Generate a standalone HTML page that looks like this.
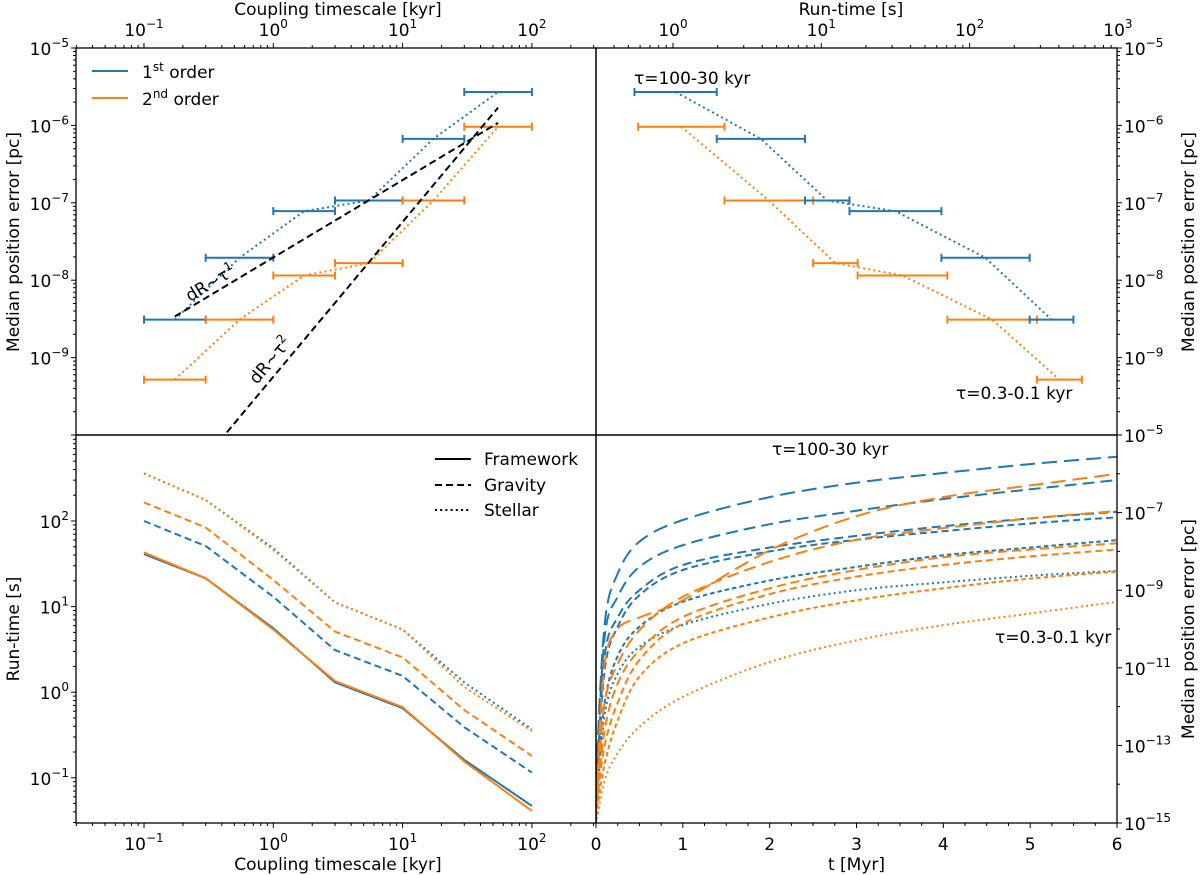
<!DOCTYPE html>
<html><head><meta charset="utf-8"><style>
body{margin:0;background:#fff}
svg{display:block;font-family:"DejaVu Sans","Liberation Sans",sans-serif}
</style></head><body>
<svg id="fig" width="1200" height="875" xmlns="http://www.w3.org/2000/svg"></svg>
<script>
// ===== DATA =====
const tauLo = [0.1, 0.3, 1, 3, 10, 30];
const tauHi = [0.3, 1, 3, 10, 30, 100];
const err1 = [3.1e-9, 1.95e-8, 7.8e-8, 1.07e-7, 6.7e-7, 2.7e-6];
const err2 = [5.2e-10, 3.1e-9, 1.15e-8, 1.66e-8, 1.07e-7, 9.6e-7];
const rt1Lo = [-0.26, 0.295, 0.89, 1.19, 1.81, 2.405];
const rt1Hi = [0.295, 0.89, 1.19, 1.81, 2.405, 2.70];
const rtErr1 = [2.7e-6, 6.7e-7, 1.07e-7, 7.8e-8, 1.95e-8, 3.1e-9];
const rt2Lo = [-0.235, 0.347, 0.945, 1.245, 1.85, 2.454];
const rt2Hi = [0.347, 0.945, 1.245, 1.85, 2.454, 2.757];
const rtErr2 = [9.6e-7, 1.07e-7, 1.66e-8, 1.15e-8, 3.1e-9, 5.2e-10];
const tauPts = [0.1, 0.3, 1, 3, 10, 30, 100];
const fw1 = [41, 21.4, 5.6, 1.3, 0.65, 0.162, 0.047];
const fw2 = [43, 21.4, 5.4, 1.35, 0.67, 0.155, 0.041];
const gr1 = [100, 51, 13, 3.1, 1.55, 0.39, 0.115];
const gr2 = [165, 84, 20.5, 5.1, 2.55, 0.62, 0.18];
const st1 = [360, 176, 48, 11.2, 5.4, 1.3, 0.37];
const st2 = [360, 176, 46, 11.2, 5.4, 1.15, 0.35];
const tMyr = [0.01, 0.1, 0.25, 0.5, 1, 2, 3, 4, 5, 6];
const B1 = [-13.5, -9.86, -8.57, -7.75, -7.19, -6.6, -6.23, -5.98, -5.75, -5.56];
const B2 = [-13.8, -10.2, -9.17, -8.4, -7.84, -7.3, -6.95, -6.65, -6.4, -6.16];
const B3 = [-14, -10.7, -9.7, -9.0, -8.35, -7.9, -7.6, -7.35, -7.15, -6.98];
const B4 = [-14.2, -11.06, -9.94, -9.13, -8.48, -8.0, -7.7, -7.48, -7.28, -7.12];
const B5 = [-14.3, -11.9, -10.7, -9.94, -9.3, -8.75, -8.4, -8.1, -7.9, -7.71];
const B6 = [-14.5, -12.2, -11.15, -10.46, -9.9, -9.35, -9.0, -8.8, -8.63, -8.5];
const O1 = [-14, -10.9, -10.0, -9.7, -9.26, -7.97, -7.09, -6.6, -6.3, -6.0];
const O2 = [-14.2, -11.9, -10.9, -10.03, -9.17, -8.27, -7.7, -7.4, -7.15, -6.96];
const O3 = [-14.4, -12.6, -11.4, -10.55, -9.69, -8.95, -8.48, -8.15, -7.95, -7.79];
const O4 = [-14.5, -13, -11.9, -10.8, -9.86, -9.1, -8.65, -8.35, -8.13, -7.95];
const O5 = [-14.7, -13.47, -12.35, -11.23, -10.37, -9.7, -9.26, -8.95, -8.7, -8.52];
const O6 = [-14.9, -13.9, -13.2, -12.52, -11.75, -10.85, -10.29, -9.9, -9.6, -9.3];

// ===== DRAW =====
const NS = "http://www.w3.org/2000/svg";
const svg = document.getElementById('fig');
const BLUE = "#1f77b4", ORANGE = "#ff7f0e";
const TF = 17, SF = 12, LF = 17;
function mk(tag, attrs, parent) {
  const e = document.createElementNS(NS, tag);
  for (const k in attrs) e.setAttribute(k, attrs[k]);
  (parent || svg).appendChild(e);
  return e;
}
const XL = 76, XM = 596, XR = 1117, YT = 48, YM = 435, YB = 823;
const lg = Math.log10;
const cx = v => 144 + (lg(v) + 1) * 129.3;
const ty = v => YT + (-5 - lg(v)) * 77.4;
const rx = l => 673 + l * 148.3;
const by = v => 521 + (2 - lg(v)) * 85.6;
const tx = t => XM + t * (XR - XM) / 6;
const ey = l => YM + (-5 - l) * (YB - YM) / 10;

const g = mk('g', {});



function pathD(xs, ys) { return xs.map((x, i) => (i ? 'L' : 'M') + x.toFixed(1) + ',' + ys[i].toFixed(1)).join(' '); }
function smoothD(xs, ys) {
  let d = 'M' + xs[0].toFixed(1) + ',' + ys[0].toFixed(1);
  for (let i = 0; i < xs.length - 1; i++) {
    const x0 = xs[Math.max(i - 1, 0)], y0 = ys[Math.max(i - 1, 0)];
    const x3 = xs[Math.min(i + 2, xs.length - 1)], y3 = ys[Math.min(i + 2, xs.length - 1)];
    const c1x = xs[i] + (xs[i + 1] - x0) / 6, c1y = ys[i] + (ys[i + 1] - y0) / 6;
    const c2x = xs[i + 1] - (x3 - xs[i]) / 6, c2y = ys[i + 1] - (y3 - ys[i]) / 6;
    d += ` C${c1x.toFixed(1)},${c1y.toFixed(1)} ${c2x.toFixed(1)},${c2y.toFixed(1)} ${xs[i + 1].toFixed(1)},${ys[i + 1].toFixed(1)}`;
  }
  return d;
}
function line(xs, ys, color, dash, name, w, clip, smooth) {
  const p = mk('path', {d: smooth ? smoothD(xs, ys) : pathD(xs, ys), fill: 'none', stroke: color, 'stroke-width': w || 2, 'stroke-dasharray': dash || 'none'}, g);
  if (clip) p.setAttribute('clip-path', 'url(#' + clip + ')');
  
  
  return p;
}
const defs = mk('defs', {});
[['cTL', XL, YT, XM - XL, YM - YT], ['cTR', XM, YT, XR - XM, YM - YT], ['cBL', XL, YM, XM - XL, YB - YM], ['cBR', XM, YM, XR - XM, YB - YM]].forEach(c => {
  const cp = mk('clipPath', {id: c[0]}, defs);
  mk('rect', {x: c[1], y: c[2], width: c[3], height: c[4]}, cp);
});
function text(x, y, s, opts, name) {
  const t = mk('text', Object.assign({x: x, y: y, 'font-size': TF, fill: '#000'}, opts || {}));
  t.innerHTML = s;
  
  
  return t;
}
function pow(e) { return '10<tspan dy="-8" font-size="' + SF + '">' + e + '</tspan>'; }
function tick(x1, y1, x2, y2) { mk('line', {x1: x1, y1: y1, x2: x2, y2: y2, stroke: '#000', 'stroke-width': 1}); }
function ebar(x1, x2, y, color, name) {
  const e = mk('path', {d: `M${x1},${y} L${x2},${y} M${x1},${y - 4} L${x1},${y + 4} M${x2},${y - 4} L${x2},${y + 4}`, stroke: color, 'stroke-width': 2, fill: 'none'}, g);
  
  
}
const DOT = '2 3.2';

// ---- top-left ----
for (let i = 0; i < 6; i++) {
  ebar(cx(tauLo[i]), cx(tauHi[i]), ty(err1[i]), BLUE, 'errorbar-first-order');
  ebar(cx(tauLo[i]), cx(tauHi[i]), ty(err2[i]), ORANGE, 'errorbar-second-order');
}
const mid = tauLo.map((v, i) => Math.sqrt(v * tauHi[i]));
line(mid.map(cx), err1.map(ty), BLUE, DOT, 'first-order-trend', 2, 'cTL');
line(mid.map(cx), err2.map(ty), ORANGE, DOT, 'second-order-trend', 2, 'cTL');
const r1x = [0.173, 54.8], r1y = [3.4e-9, 3.4e-9 * 54.8 / 0.173];
line(r1x.map(cx), r1y.map(ty), '#000', '7 4', 'slope-1-reference', 2, 'cTL');
const r2x = [0.3, 54.8], r2y = [1.7e-6 * Math.pow(0.3 / 54.8, 2), 1.7e-6];
line(r2x.map(cx), r2y.map(ty), '#000', '7 4', 'slope-2-reference', 2, 'cTL');
text(0, 0, 'dR~τ<tspan dy="-7" font-size="' + SF + '">1</tspan>', {transform: 'translate(190,302) rotate(-31)'}, 'slope-1-label');
text(0, 0, 'dR~τ<tspan dy="-7" font-size="' + SF + '">2</tspan>', {transform: 'translate(257,385) rotate(-50)'}, 'slope-2-label');

// ---- top-right ----
for (let i = 0; i < 6; i++) {
  ebar(rx(rt1Lo[i]), rx(rt1Hi[i]), ty(rtErr1[i]), BLUE, 'runtime-errorbar-first');
  ebar(rx(rt2Lo[i]), rx(rt2Hi[i]), ty(rtErr2[i]), ORANGE, 'runtime-errorbar-second');
}
line(rt1Lo.map((v, i) => rx((v + rt1Hi[i]) / 2)), rtErr1.map(ty), BLUE, DOT, 'runtime-trend-first', 2, 'cTR');
line(rt2Lo.map((v, i) => rx((v + rt2Hi[i]) / 2)), rtErr2.map(ty), ORANGE, DOT, 'runtime-trend-second', 2, 'cTR');
text(634, 84, 'τ=100-30 kyr', {}, 'annotation-tau-high');
text(956, 399, 'τ=0.3-0.1 kyr', {}, 'annotation-tau-low');

// ---- bottom-left ----
const bx = tauPts.map(cx);
line(bx, fw1.map(by), BLUE, 'none', 'framework-first', 2, 'cBL');
line(bx, fw2.map(by), ORANGE, 'none', 'framework-second', 2, 'cBL');
line(bx, gr1.map(by), BLUE, '7 4', 'gravity-first', 2, 'cBL');
line(bx, gr2.map(by), ORANGE, '7 4', 'gravity-second', 2, 'cBL');
line(bx, st1.map(by), BLUE, DOT, 'stellar-first', 2, 'cBL');
line(bx, st2.map(by), ORANGE, DOT, 'stellar-second', 2, 'cBL');

// ---- bottom-right ----
const dashes = ['15 7', '12 6', '9 5', '7 4', '4.5 3', '2 3.2'];
const bS = [B1, B2, B3, B4, B5, B6], oS = [O1, O2, O3, O4, O5, O6];
const txs = tMyr.map(tx);
bS.forEach((s, i) => line([tx(0), ...txs], [ey(-15), ...s.map(ey)], BLUE, dashes[i], 'error-growth-first-' + (i + 1), 2, 'cBR', true));
oS.forEach((s, i) => line([tx(0), ...txs], [ey(-15), ...s.map(ey)], ORANGE, dashes[i], 'error-growth-second-' + (i + 1), 2, 'cBR', true));
text(772, 455, 'τ=100-30 kyr', {}, 'annotation-tau-high-bottom');
text(995, 643, 'τ=0.3-0.1 kyr', {}, 'annotation-tau-low-bottom');

// ---- frames ----
[[XL, YT, XM - XL, YM - YT], [XM, YT, XR - XM, YM - YT], [XL, YM, XM - XL, YB - YM], [XM, YM, XR - XM, YB - YM]].forEach(r =>
  mk('rect', {x: r[0], y: r[1], width: r[2], height: r[3], fill: 'none', stroke: '#000', 'stroke-width': 1.3}));

// ---- ticks ----
for (let d = -2; d <= 2; d++) for (let m = 1; m <= 9; m++) {
  const v = m * Math.pow(10, d), x = cx(v);
  if (x < XL || x > XM) continue;
  const L = m === 1 ? 5 : 3;
  tick(x, YT, x, YT - L); tick(x, YB, x, YB + L);
}
[-1, 0, 1, 2].forEach(e => {
  text(cx(Math.pow(10, e)), 36, pow(e < 0 ? '−' + (-e) : e), {'text-anchor': 'middle'}, 'top-x-tick-label');
  text(cx(Math.pow(10, e)), 850, pow(e < 0 ? '−' + (-e) : e), {'text-anchor': 'middle'}, 'bottom-x-tick-label');
});
text(cx(Math.pow(10, 0.5)), 15, 'Coupling timescale [kyr]', {'text-anchor': 'middle', 'font-size': LF}, 'top-left-x-title');
text(cx(Math.pow(10, 0.5)), 870, 'Coupling timescale [kyr]', {'text-anchor': 'middle', 'font-size': LF}, 'bottom-left-x-title');
for (let d = -1; d <= 3; d++) for (let m = 1; m <= 9; m++) {
  const l = d + lg(m), x = rx(l);
  if (x < XM || x > XR + 0.5) continue;
  tick(x, YT, x, YT - (m === 1 ? 5 : 3));
}
[0, 1, 2, 3].forEach(e => text(rx(e), 36, pow(e), {'text-anchor': 'middle'}, 'top-right-x-tick-label'));
text(rx(1.2), 15, 'Run-time [s]', {'text-anchor': 'middle', 'font-size': LF}, 'top-right-x-title');
for (let d = -10; d <= -6; d++) for (let m = 1; m <= 9; m++) {
  const y = ty(m * Math.pow(10, d));
  const L = m === 1 ? 5 : 3;
  tick(XL, y, XL - L, y); tick(XR, y, XR + L, y);
}
tick(XL, YT, XL - 5, YT); tick(XR, YT, XR + 5, YT);
[-5, -6, -7, -8, -9].forEach(e => {
  text(XL - 7, ty(Math.pow(10, e)) + 7, pow('−' + (-e)), {'text-anchor': 'end'}, 'top-left-y-tick-label');
  text(XR + 7, ty(Math.pow(10, e)) + 7, pow('−' + (-e)), {}, 'top-right-y-tick-label');
});
text(0, 0, 'Median position error [pc]', {transform: 'translate(19,242) rotate(-90)', 'text-anchor': 'middle', 'font-size': LF}, 'top-left-y-title');
text(0, 0, 'Median position error [pc]', {transform: 'translate(1194,242) rotate(-90)', 'text-anchor': 'middle', 'font-size': LF}, 'top-right-y-title');
for (let d = -2; d <= 2; d++) for (let m = 1; m <= 9; m++) {
  const y = by(m * Math.pow(10, d));
  if (y < YM || y > YB) continue;
  tick(XL, y, XL - (m === 1 ? 5 : 3), y);
}
[2, 1, 0, -1].forEach(e => text(XL - 7, by(Math.pow(10, e)) + 7, pow(e < 0 ? '−' + (-e) : e), {'text-anchor': 'end'}, 'bottom-left-y-tick-label'));
text(0, 0, 'Run-time [s]', {transform: 'translate(19,629) rotate(-90)', 'text-anchor': 'middle', 'font-size': LF}, 'bottom-left-y-title');
for (let k = 0; k <= 24; k++) { const x = tx(k * 0.25); tick(x, YB, x, YB + (k % 4 === 0 ? 5 : 3)); }
for (let k = 0; k <= 6; k++) text(tx(k), 850, String(k), {'text-anchor': 'middle'}, 'bottom-right-x-tick-label');
text(tx(3), 870, 't [Myr]', {'text-anchor': 'middle', 'font-size': LF}, 'bottom-right-x-title');
for (let d = -15; d <= -5; d++) { tick(XR, ey(d), XR + (d % 2 ? 5 : 3), ey(d)); }
[-5, -7, -9, -11, -13, -15].forEach(e => text(XR + 7, ey(e) + 7, pow('−' + (-e)), {}, 'bottom-right-y-tick-label'));
text(0, 0, 'Median position error [pc]', {transform: 'translate(1194,629) rotate(-90)', 'text-anchor': 'middle', 'font-size': LF}, 'bottom-right-y-title');

// ---- legends ----
const lg1 = mk('g', {});


mk('line', {x1: 92, y1: 71, x2: 128, y2: 71, stroke: BLUE, 'stroke-width': 2}, lg1);
mk('line', {x1: 92, y1: 98, x2: 128, y2: 98, stroke: ORANGE, 'stroke-width': 2}, lg1);
text(142, 78, '1<tspan dy="-7" font-size="' + SF + '">st</tspan><tspan dy="7"> order</tspan>', {}, 'legend-first-order');
text(142, 105, '2<tspan dy="-7" font-size="' + SF + '">nd</tspan><tspan dy="7"> order</tspan>', {}, 'legend-second-order');
const lg2 = mk('g', {});


[['none', 'Framework', 459], ['7 4', 'Gravity', 485], [DOT, 'Stellar', 510]].forEach(r => {
  mk('line', {x1: 435, y1: r[2], x2: 471, y2: r[2], stroke: '#000', 'stroke-width': 2, 'stroke-dasharray': r[0]}, lg2);
  text(484, r[2] + 6, r[1], {}, 'legend-' + r[1].toLowerCase());
});
</script>
</body></html>
